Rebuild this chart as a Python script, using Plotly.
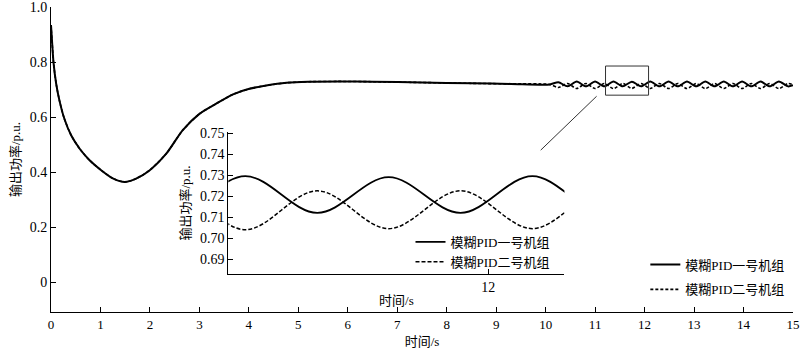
import plotly.graph_objects as go

# ---- data ----
# common transient (both units identical) up to ~10.08 s
t_pre = [0.0, 0.024, 0.05, 0.105, 0.17, 0.27, 0.41, 0.58, 0.78, 1.02, 1.26, 1.49, 1.72,
         1.99, 2.33, 2.66, 3.0, 3.34, 3.68, 4.01, 4.35, 4.76, 5.2, 5.8, 6.5, 7.5, 8.5,
         9.3, 10.08]
v_pre = [0.935, 0.867, 0.8, 0.721, 0.661, 0.594, 0.533, 0.485, 0.443, 0.406, 0.376,
         0.364, 0.376, 0.406, 0.467, 0.552, 0.612, 0.649, 0.683, 0.703, 0.715, 0.725,
         0.729, 0.730, 0.729, 0.726, 0.723, 0.721, 0.719]

# oscillation extrema (half-period spacing)
t_osc = [10.256, 10.442, 10.628, 10.814, 10.999, 11.185, 11.371, 11.557, 11.742, 11.928,
         12.114, 12.300, 12.485, 12.671, 12.857, 13.043, 13.228, 13.414, 13.600, 13.786,
         13.971, 14.157, 14.343, 14.529, 14.714, 14.900, 15.0]
unit1_osc = [0.727, 0.712, 0.7295, 0.712, 0.7295, 0.712, 0.7295, 0.712, 0.729, 0.712,
             0.7295, 0.712, 0.7295, 0.712, 0.7295, 0.712, 0.7295, 0.712, 0.7295, 0.712,
             0.7295, 0.712, 0.7295, 0.712, 0.7295, 0.712, 0.716]
unit2_osc = [0.708, 0.7225, 0.704, 0.7225, 0.704, 0.7225, 0.704, 0.7225, 0.7045, 0.7225,
             0.7045, 0.7225, 0.704, 0.7225, 0.704, 0.7225, 0.704, 0.7225, 0.704, 0.7225,
             0.704, 0.7225, 0.704, 0.7225, 0.704, 0.7225, 0.718]

t_all = t_pre + t_osc
unit1 = v_pre + unit1_osc
unit2 = v_pre + unit2_osc

name1 = "模糊PID一号机组"
name2 = "模糊PID二号机组"

main_yticks = [0, 0.2, 0.4, 0.6, 0.8, 1.0]
main_yticktext = ["0", "0.2", "0.4", "0.6", "0.8", "1.0"]
main_xticks = list(range(16))
inset_yticks = [0.69, 0.70, 0.71, 0.72, 0.73, 0.74, 0.75]
inset_yticktext = ["0.69", "0.70", "0.71", "0.72", "0.73", "0.74", "0.75"]
inset_xticks = [12]

SERIF = "Liberation Serif, Noto Sans CJK SC, serif"

fig = go.Figure()
# main plot
fig.add_trace(go.Scatter(x=t_all, y=unit1, mode="lines", name=name1,
                         line=dict(color="black", width=2, shape="spline", smoothing=0.7),
                         xaxis="x", yaxis="y", legend="legend", legendgroup="a"))
fig.add_trace(go.Scatter(x=t_all, y=unit2, mode="lines", name=name2,
                         line=dict(color="black", width=1.6, dash="3px,2px", shape="spline", smoothing=0.7),
                         xaxis="x", yaxis="y", legend="legend", legendgroup="b"))
# inset
fig.add_trace(go.Scatter(x=t_all, y=unit1, mode="lines", name=name1,
                         line=dict(color="black", width=1.8, shape="spline", smoothing=1),
                         xaxis="x2", yaxis="y2", legend="legend2"))
fig.add_trace(go.Scatter(x=t_all, y=unit2, mode="lines", name=name2,
                         line=dict(color="black", width=1.5, dash="4px,2px", shape="spline", smoothing=1),
                         xaxis="x2", yaxis="y2", legend="legend2"))

axis_common = dict(showline=True, linecolor="black", linewidth=1, ticks="inside",
                   ticklen=5, tickcolor="black", showgrid=False, zeroline=False,
                   automargin=False)
serif14 = dict(family=SERIF, size=14, color="black")
serif13 = dict(family=SERIF, size=13, color="black")

fig.update_layout(
    width=800, height=352,
    margin=dict(l=51, r=7, t=7, b=40),
    paper_bgcolor="white", plot_bgcolor="rgba(0,0,0,0)",
    font=dict(family=SERIF, size=13, color="black"),
    xaxis=dict(domain=[0, 1], anchor="y", range=[0, 15], tickvals=main_xticks,
               tickfont=serif13,
               title=dict(text="时间/s", font=dict(size=13), standoff=6), **axis_common),
    yaxis=dict(domain=[0, 1], anchor="x", range=[-0.109, 1.0008], tickvals=main_yticks,
               ticktext=main_yticktext, tickfont=serif14,
               title=dict(text="输出功率/p.u.", font=dict(size=13), standoff=6), **axis_common),
    xaxis2=dict(domain=[0.239, 0.692], anchor="y2", range=[11.327, 12.197], tickvals=inset_xticks,
                tickfont=serif14,
                title=dict(text="时间/s", font=dict(size=13), standoff=2), **axis_common),
    yaxis2=dict(domain=[0.1246, 0.590], anchor="x2", range=[0.6829, 0.7505], tickvals=inset_yticks,
                ticktext=inset_yticktext, tickfont=serif14,
                title=dict(text="输出功率/p.u.", font=dict(size=13), standoff=6), **axis_common),
    legend=dict(x=0.801, y=0.205, xanchor="left", yanchor="top", bgcolor="rgba(0,0,0,0)",
                font=dict(family=SERIF, size=13), tracegroupgap=5, traceorder="grouped"),
    legend2=dict(x=0.4845, y=0.279, xanchor="left", yanchor="top", bgcolor="rgba(0,0,0,0)",
                 font=dict(family=SERIF, size=13), tracegroupgap=0),
    showlegend=True,
)

# zoom box and connector on the main axes
fig.add_shape(type="rect", xref="x", yref="y", x0=11.21, x1=12.08, y0=0.68, y1=0.786,
              line=dict(color="#333", width=1))
fig.add_shape(type="line", xref="x", yref="y", x0=9.90, y0=0.48, x1=11.03, y1=0.676,
              line=dict(color="#333", width=1))

fig.write_html("out.html")
